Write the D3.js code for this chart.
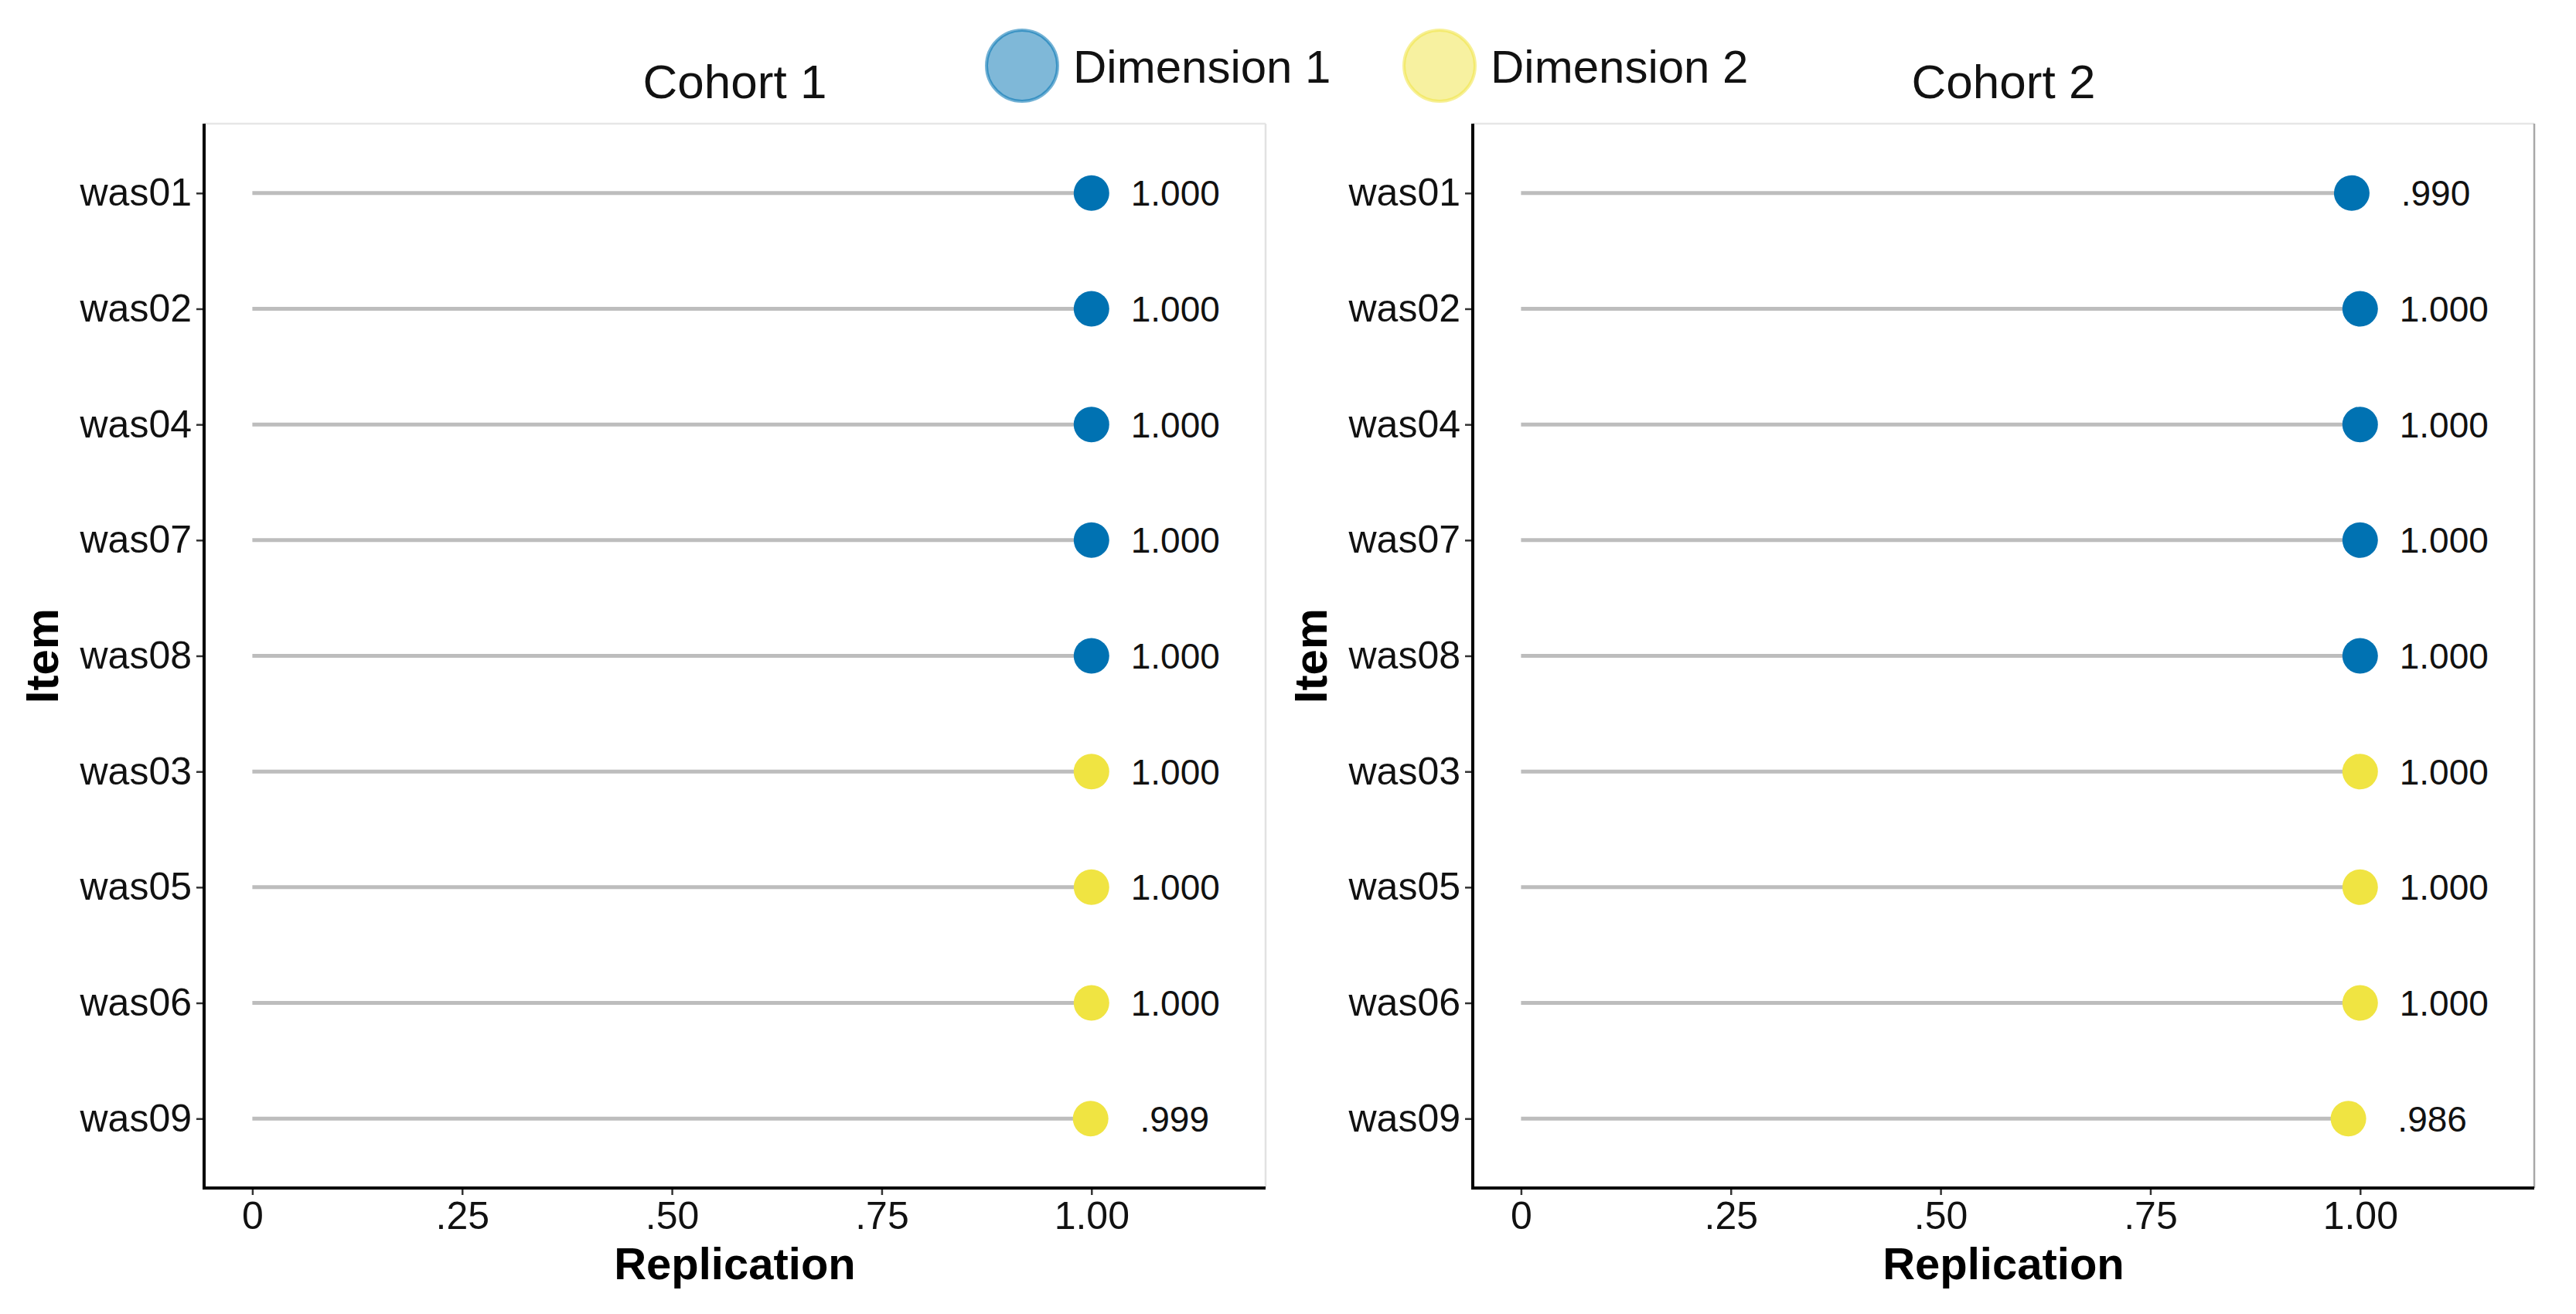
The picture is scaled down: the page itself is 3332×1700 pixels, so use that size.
<!DOCTYPE html>
<html>
<head>
<meta charset="utf-8">
<script src="https://cdn.jsdelivr.net/npm/d3@7"></script>
<style>
  html, body { margin: 0; padding: 0; background: #ffffff; }
  svg { display: block; font-family: "Liberation Sans", Arial, sans-serif; }
</style>
</head>
<body>
<svg id="chart" width="3332" height="1700"></svg>
<script>
// ---- data ----
const items = ["was01", "was02", "was04", "was07", "was08", "was03", "was05", "was06", "was09"];
const dimension = [1, 1, 1, 1, 1, 2, 2, 2, 2];
const cohortNames = ["Cohort 1", "Cohort 2"];
const cohort1Values = [1.000, 1.000, 1.000, 1.000, 1.000, 1.000, 1.000, 1.000, 0.999];
const cohort2Values = [0.990, 1.000, 1.000, 1.000, 1.000, 1.000, 1.000, 1.000, 0.986];
const xTickValues = [0, 0.25, 0.5, 0.75, 1.0];
const xTickLabels = ["0", ".25", ".50", ".75", "1.00"];
const legendLabels = ["Dimension 1", "Dimension 2"];

// ---- styling ----
const colors = { 1: "#0072B2", 2: "#F0E442" };
const svg = d3.select("#chart");
const panelTop = 160, panelBottom = 1537;
const panels = [
  { left: 264, right: 1637, values: cohort1Values, name: cohortNames[0], rightBorder: "#e2e2e2" },
  { left: 1905, right: 3278, values: cohort2Values, name: cohortNames[1], rightBorder: "#a8a8a8" }
];
const fmt = v => d3.format(".3f")(v).replace(/^0\./, ".");

panels.forEach(p => {
  const g = svg.append("g");
  const x = d3.scaleLinear().domain([-0.0575, 1.2075]).range([p.left, p.right]);
  const y = d3.scalePoint().domain(items).range([panelTop, panelBottom]).padding(0.6);

  // top and right panel borders
  g.append("line").attr("x1", p.left).attr("x2", p.right).attr("y1", panelTop).attr("y2", panelTop)
    .attr("stroke", "#e6e6e6").attr("stroke-width", 2.5);
  g.append("line").attr("x1", p.right).attr("x2", p.right).attr("y1", panelTop).attr("y2", panelBottom)
    .attr("stroke", p.rightBorder).attr("stroke-width", 2.5);

  const rows = items.map((it, i) => ({ item: it, value: p.values[i], dim: dimension[i] }));

  // segments
  g.selectAll("line.seg").data(rows).enter().append("line")
    .attr("class", "seg")
    .attr("x1", x(0)).attr("x2", d => x(d.value))
    .attr("y1", d => y(d.item)).attr("y2", d => y(d.item))
    .attr("stroke", "#bdbdbd").attr("stroke-width", 5);

  // points
  g.selectAll("circle.pt").data(rows).enter().append("circle")
    .attr("class", "pt")
    .attr("cx", d => x(d.value)).attr("cy", d => y(d.item))
    .attr("r", 23).attr("fill", d => colors[d.dim]);

  // value labels
  g.selectAll("text.val").data(rows).enter().append("text")
    .attr("class", "val")
    .attr("x", d => x(d.value + 0.1)).attr("y", d => y(d.item))
    .attr("dy", "0.36em").attr("text-anchor", "middle")
    .attr("font-size", 46).attr("fill", "#111")
    .text(d => fmt(d.value));

  // x axis
  const xAxis = d3.axisBottom(x).tickValues(xTickValues)
    .tickFormat((d, i) => xTickLabels[i]).tickSize(9).tickPadding(8);
  const xa = g.append("g").attr("transform", `translate(0,${panelBottom})`).call(xAxis);
  xa.select(".domain").remove();
  xa.selectAll(".tick line").attr("stroke", "#333").attr("stroke-width", 2.5);
  xa.selectAll(".tick text").attr("font-size", 50).attr("fill", "#111")
    .attr("font-family", "'Liberation Sans', Arial, sans-serif");

  // y axis
  const yAxis = d3.axisLeft(y).tickSize(10).tickPadding(6);
  const ya = g.append("g").attr("transform", `translate(${p.left},0)`).call(yAxis);
  ya.select(".domain").remove();
  ya.selectAll(".tick line").attr("stroke", "#333").attr("stroke-width", 2.5);
  ya.selectAll(".tick text").attr("font-size", 50).attr("fill", "#111")
    .attr("font-family", "'Liberation Sans', Arial, sans-serif");

  // axis lines (left + bottom)
  g.append("path")
    .attr("d", `M${p.left},${panelTop} L${p.left},${panelBottom} L${p.right},${panelBottom}`)
    .attr("fill", "none").attr("stroke", "#000").attr("stroke-width", 4);

  // title
  g.append("text").attr("x", (p.left + p.right) / 2).attr("y", 127)
    .attr("text-anchor", "middle").attr("font-size", 62).attr("fill", "#111")
    .text(p.name);

  // x axis title
  g.append("text").attr("x", (p.left + p.right) / 2).attr("y", 1655)
    .attr("text-anchor", "middle").attr("font-size", 58).attr("font-weight", "bold")
    .attr("fill", "#000").text("Replication");

  // y axis title
  g.append("text")
    .attr("transform", `translate(${p.left - 189},${(panelTop + panelBottom) / 2}) rotate(-90)`)
    .attr("text-anchor", "middle").attr("font-size", 60).attr("font-weight", "bold")
    .attr("fill", "#000").text("Item");
});

// legend
const legend = svg.append("g");
const legendX = [1322, 1862];
legendLabels.forEach((lab, i) => {
  const c = colors[i + 1];
  legend.append("circle").attr("cx", legendX[i]).attr("cy", 85).attr("r", 46)
    .attr("fill", c).attr("fill-opacity", 0.5)
    .attr("stroke", c).attr("stroke-opacity", 0.55).attr("stroke-width", 4);
  legend.append("text").attr("x", legendX[i] + 66).attr("y", 107)
    .attr("font-size", 60).attr("fill", "#111").text(lab);
});
</script>
</body>
</html>
